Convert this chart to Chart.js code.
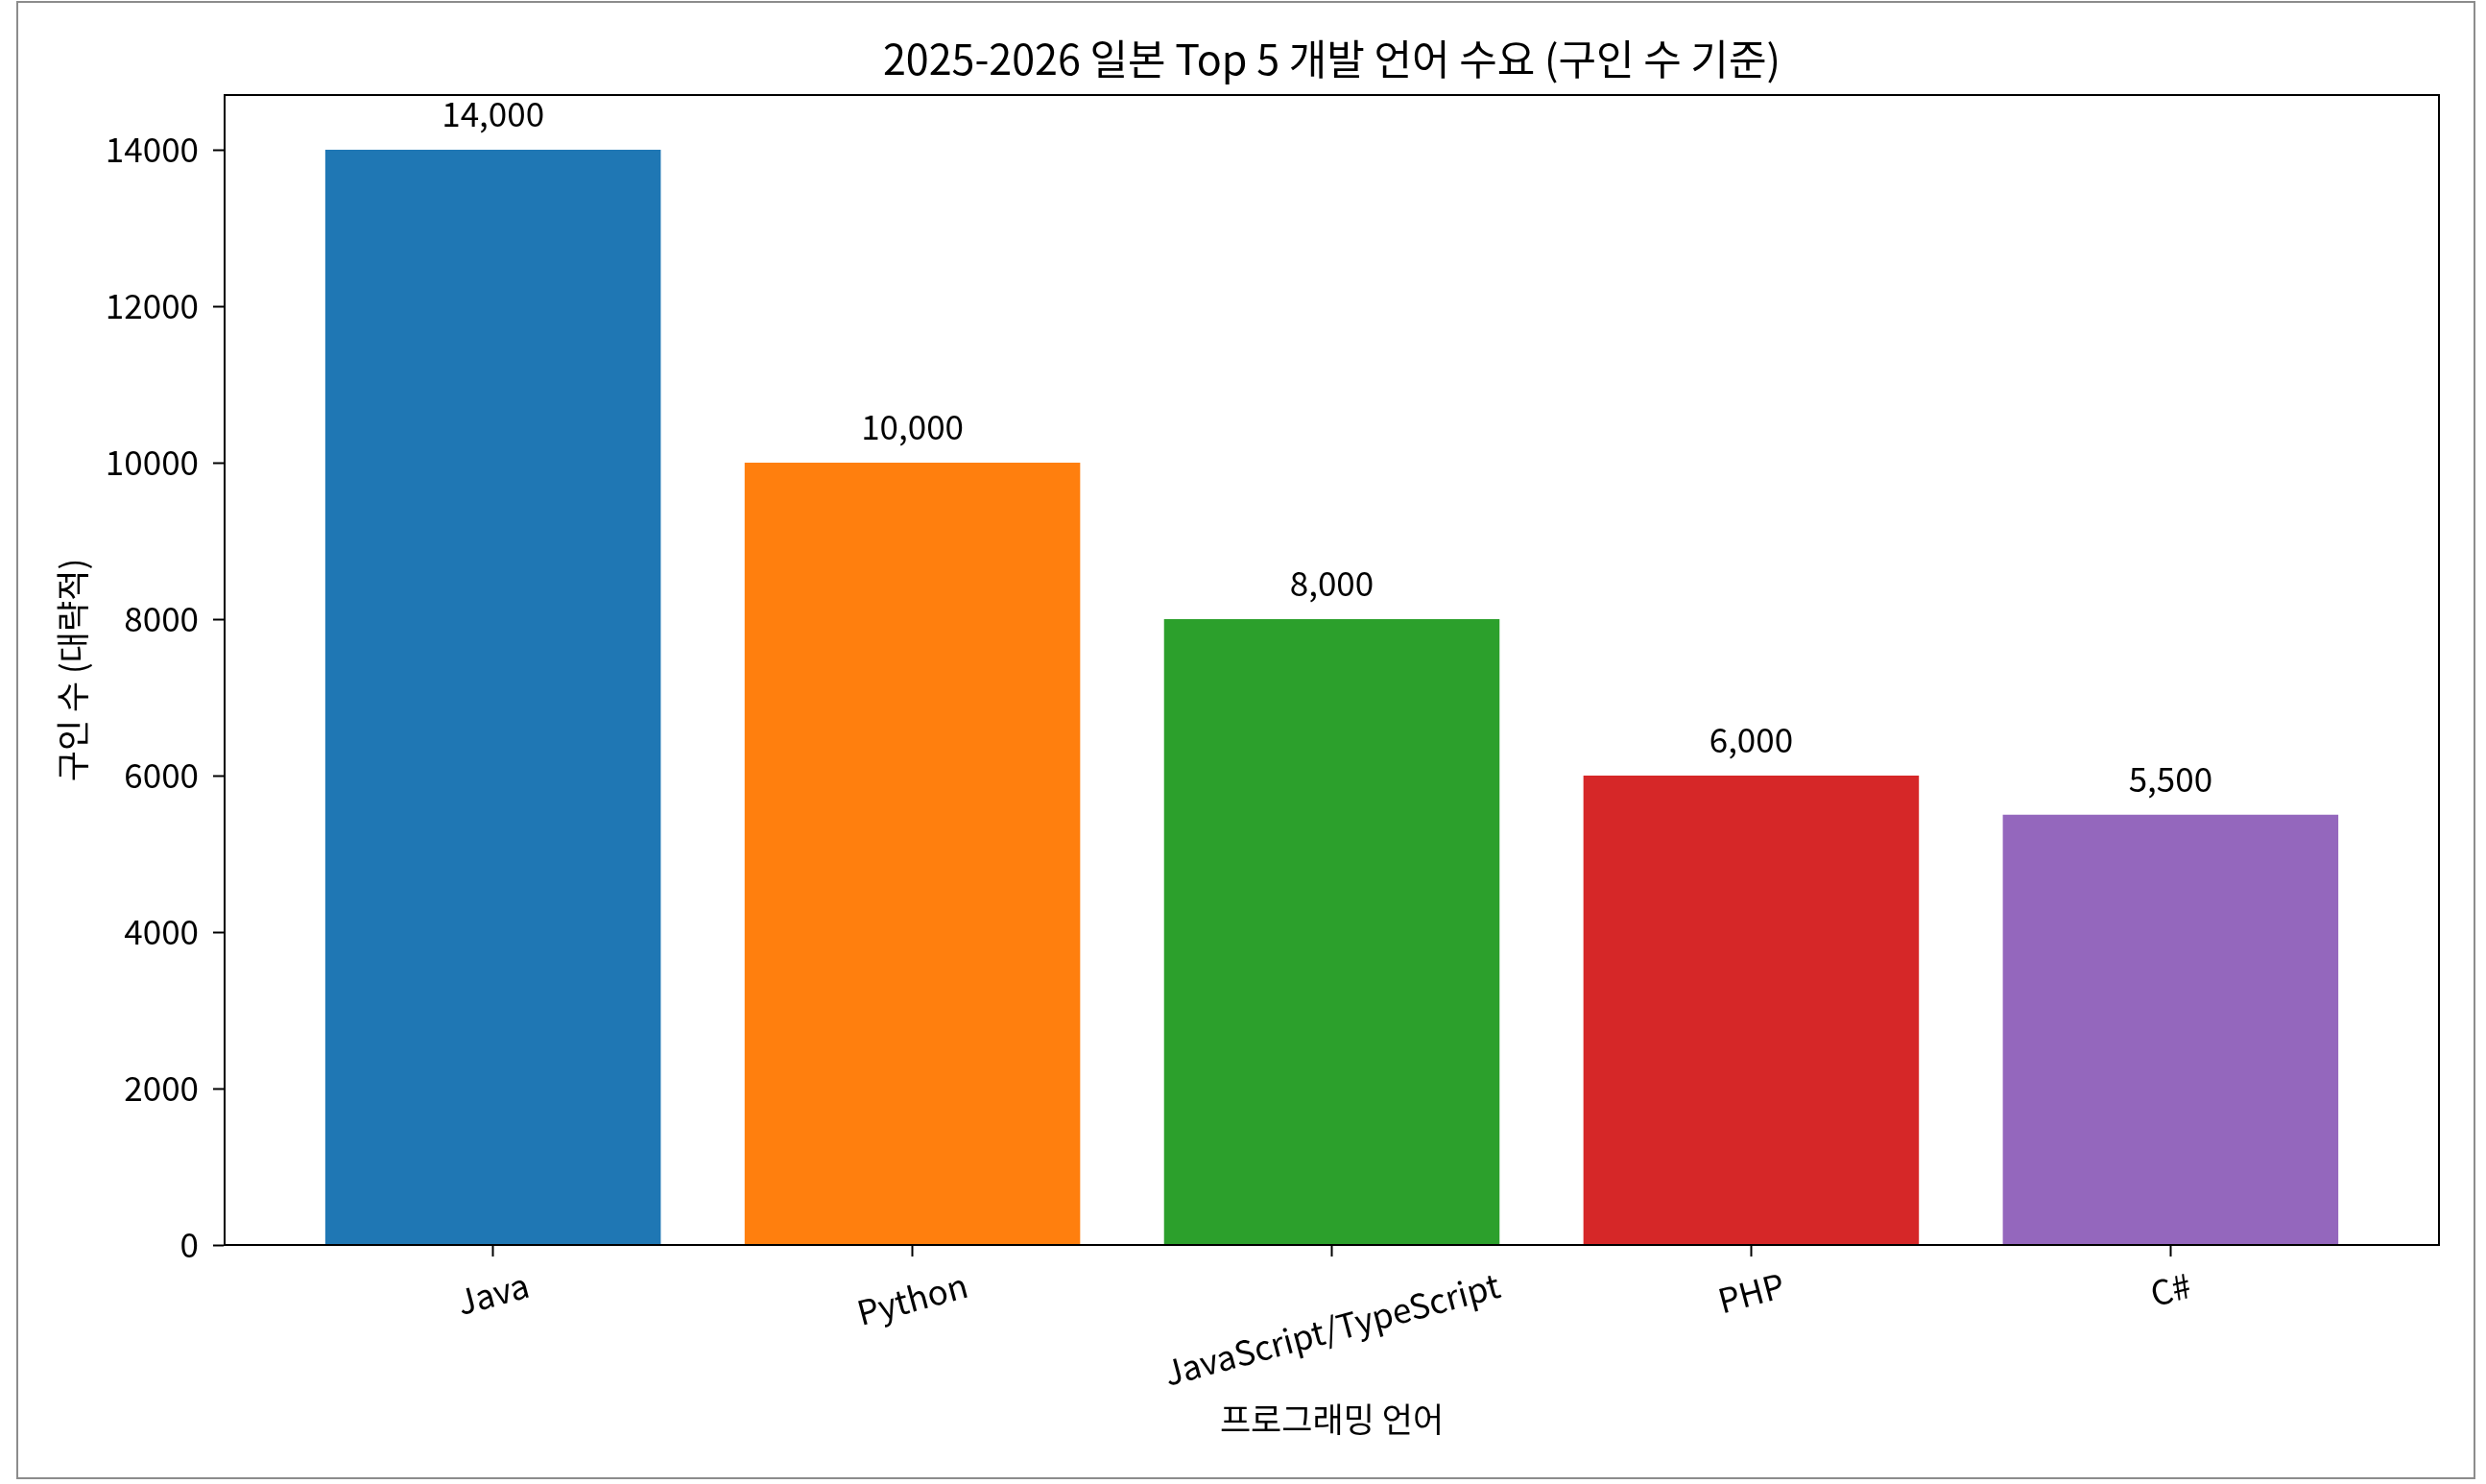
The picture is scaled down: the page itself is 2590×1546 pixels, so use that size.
<!DOCTYPE html>
<html>
<head>
<meta charset="utf-8">
<script src="https://cdn.jsdelivr.net/npm/chart.js@4.4.1/dist/chart.umd.min.js"></script>
<style>
  html, body { margin: 0; padding: 0; background: #fff; }
  #frame { position: absolute; left: 17px; top: 1px; width: 2562px; height: 1540px; box-sizing: border-box; border: 2px solid #8c8c8c; }
  #jobChart { position: absolute; left: 0; top: 0; }
</style>
</head>
<body>
<div id="frame"></div>
<canvas id="jobChart" width="2590" height="1546"></canvas>
<script>
const languages = ["Java", "Python", "JavaScript/TypeScript", "PHP", "C#"];
const jobCounts = [14000, 10000, 8000, 6000, 5500];
const barColors = ["#1f77b4", "#ff7f0e", "#2ca02c", "#d62728", "#9467bd"];
const yTicks = [0, 2000, 4000, 6000, 8000, 10000, 12000, 14000];

const FONT = "'Noto Sans CJK KR', 'Noto Sans', sans-serif";

// top/right spines like matplotlib's box
const boxPlugin = {
  id: "box",
  afterDraw(chart) {
    const { ctx, chartArea: a } = chart;
    ctx.save();
    ctx.strokeStyle = "#000";
    ctx.lineWidth = 2;
    ctx.strokeRect(a.left, a.top, a.right - a.left, a.bottom - a.top);
    ctx.restore();
  },
};

// value labels over the bars
const valueLabels = {
  id: "valueLabels",
  afterDatasetsDraw(chart) {
    const { ctx } = chart;
    const meta = chart.getDatasetMeta(0);
    ctx.save();
    ctx.font = "35px " + FONT;
    ctx.fillStyle = "#000";
    ctx.textAlign = "center";
    ctx.textBaseline = "alphabetic";
    meta.data.forEach((bar, i) => {
      ctx.fillText(jobCounts[i].toLocaleString("en-US"), bar.x, bar.y - 24);
    });
    ctx.restore();
  },
};

// x tick labels rotated 15deg, centred on the tick
const rotatedTicks = {
  id: "rotatedTicks",
  afterDraw(chart) {
    const { ctx } = chart;
    const xs = chart.scales.x;
    const ang = 15 * Math.PI / 180;
    const fs = 35;
    const top = chart.chartArea.bottom + 24;
    ctx.save();
    ctx.font = fs + "px " + FONT;
    ctx.fillStyle = "#000";
    ctx.textAlign = "center";
    ctx.textBaseline = "middle";
    xs.ticks.forEach((t) => {
      const label = languages[t.value];
      if (label === undefined) return;
      const w = ctx.measureText(label).width;
      const h = fs * 1.0;
      const cy = top + (w * Math.sin(ang) + h * Math.cos(ang)) / 2;
      ctx.save();
      ctx.translate(xs.getPixelForValue(t.value), cy);
      ctx.rotate(-ang);
      ctx.fillText(label, 0, 0);
      ctx.restore();
    });
    ctx.restore();
  },
};

const ctxJobs = document.getElementById("jobChart").getContext("2d");
const jobChart = new Chart(ctxJobs, {
  type: "bar",
  data: {
    datasets: [
      {
        label: "구인 수",
        data: jobCounts.map((v, i) => ({ x: i, y: v })),
        backgroundColor: barColors,
        borderWidth: 0,
        categoryPercentage: 0.8,
        barPercentage: 1,
      },
    ],
  },
  options: {
    responsive: false,
    devicePixelRatio: 1,
    animation: false,
    layout: { padding: { left: 0, right: 49, top: 0, bottom: 0 } },
    plugins: {
      legend: { display: false },
      tooltip: { enabled: false },
      title: {
        display: true,
        text: "2025-2026 일본 Top 5 개발 언어 수요 (구인 수 기준)",
        color: "#000",
        fullSize: false,
        font: { family: FONT, size: 43, weight: "normal", lineHeight: 1.2 },
        padding: { top: 36, bottom: 11.4 },
      },
    },
    scales: {
      x: {
        type: "linear",
        min: -0.64,
        max: 4.64,
        offset: false,
        afterBuildTicks(s) {
          s.ticks = s.ticks.filter((t) => Number.isInteger(t.value) && t.value >= 0 && t.value < languages.length);
        },
        afterFit(s) { s.height = 249; },
        ticks: { display: false, stepSize: 1, includeBounds: false },
        grid: { offset: false, drawOnChartArea: false, color: "#000", tickLength: 12, tickWidth: 2 },
        border: { display: true, color: "#000", width: 2 },
        title: {
          display: true,
          text: "프로그래밍 언어",
          color: "#000",
          font: { family: FONT, size: 35, lineHeight: 1.2 },
          padding: { top: 0, bottom: 46 },
        },
      },
      y: {
        type: "linear",
        min: 0,
        max: 14700,
        afterBuildTicks(s) {
          s.ticks = yTicks.map((v) => ({ value: v }));
        },
        afterFit(s) { s.width = 234; },
        ticks: {
          color: "#000",
          font: { family: FONT, size: 35 },
          padding: 15,
          includeBounds: false,
          callback: (v) => String(v),
        },
        grid: { drawOnChartArea: false, color: "#000", tickLength: 12, tickWidth: 2 },
        border: { display: true, color: "#000", width: 2 },
        title: {
          display: true,
          text: "구인 수 (대략적)",
          color: "#000",
          font: { family: FONT, size: 35, lineHeight: 1.2 },
          padding: { top: 55, bottom: 0 },
        },
      },
    },
  },
  plugins: [boxPlugin, valueLabels, rotatedTicks],
});
</script>
</body>
</html>
